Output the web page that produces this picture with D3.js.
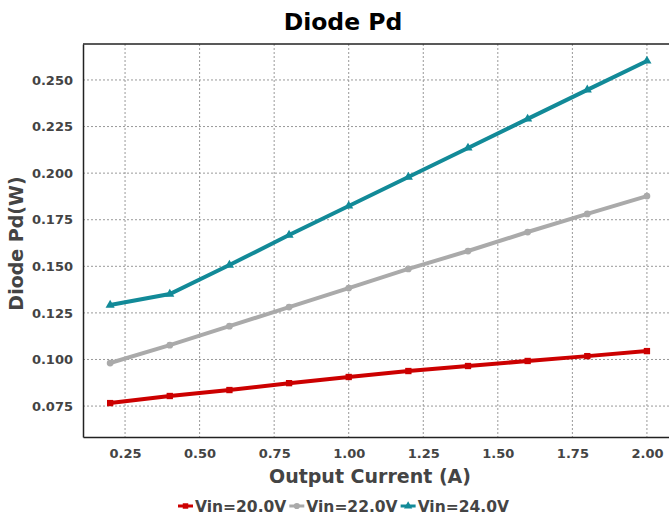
<!DOCTYPE html>
<html>
<head>
<meta charset="utf-8">
<script src="https://cdn.jsdelivr.net/npm/d3@7"></script>
<style>
  body { margin: 0; background: #fff; }
  text { font-family: "DejaVu Sans", sans-serif; }
</style>
</head>
<body>
<div id="chart"></div>
<script>
// data
const current = [0.2, 0.4, 0.6, 0.8, 1.0, 1.2, 1.4, 1.6, 1.8, 2.0];
const vin20 = [0.0766, 0.0804, 0.0836, 0.0873, 0.0906, 0.0938, 0.0965, 0.0992, 0.1018, 0.1045];
const vin22 = [0.0981, 0.1077, 0.1179, 0.1281, 0.1383, 0.1486, 0.1582, 0.1684, 0.1781, 0.1877];
const vin24 = [0.1292, 0.1351, 0.1507, 0.1668, 0.1824, 0.1979, 0.2135, 0.2291, 0.2447, 0.2602];
const seriesNames = ["Vin=20.0V", "Vin=22.0V", "Vin=24.0V"];
const xTicks = [0.25, 0.5, 0.75, 1.0, 1.25, 1.5, 1.75, 2.0];
const yTicks = [0.075, 0.1, 0.125, 0.15, 0.175, 0.2, 0.225, 0.25];

const width = 669, height = 517;
const margin = { top: 44, right: 0, bottom: 80, left: 83 };
const innerW = width - margin.left - margin.right;
const innerH = height - margin.top - margin.bottom;

const series = [
  { name: seriesNames[0], values: vin20, color: "#cc0000", symbol: d3.symbolSquare, size: 40 },
  { name: seriesNames[1], values: vin22, color: "#aaaaaa", symbol: d3.symbolCircle, size: 36 },
  { name: seriesNames[2], values: vin24, color: "#128a98", symbol: d3.symbolTriangle, size: 36 }
];

const svg = d3.select("#chart").append("svg")
  .attr("width", width)
  .attr("height", height);

const g = svg.append("g")
  .attr("transform", "translate(" + margin.left + "," + margin.top + ")");

const x = d3.scaleLinear().domain([0.109, 2.074]).range([0, innerW]);
const y = d3.scaleLinear().domain([0.0584, 0.2693]).range([innerH, 0]);

// grid
g.append("g").selectAll("line").data(xTicks).join("line")
  .attr("x1", d => x(d)).attr("x2", d => x(d))
  .attr("y1", 0).attr("y2", innerH)
  .attr("stroke", "#999").attr("stroke-width", 1).attr("stroke-dasharray", "2,2");
g.append("g").selectAll("line").data(yTicks).join("line")
  .attr("x1", 0).attr("x2", innerW)
  .attr("y1", d => y(d)).attr("y2", d => y(d))
  .attr("stroke", "#999").attr("stroke-width", 1).attr("stroke-dasharray", "2,2");

// axes
const xAxis = g.append("g")
  .attr("transform", "translate(0," + innerH + ")")
  .call(d3.axisBottom(x).tickValues(xTicks).tickFormat(d3.format(".2f")).tickSize(0).tickPadding(12));
const yAxis = g.append("g")
  .call(d3.axisLeft(y).tickValues(yTicks).tickFormat(d3.format(".3f")).tickSize(0).tickPadding(10));
[xAxis, yAxis].forEach(a => {
  a.select(".domain").attr("stroke", "#222").attr("stroke-width", 1.5);
  a.selectAll("text")
    .style("font-family", "DejaVu Sans, sans-serif")
    .style("font-size", "13px")
    .style("font-weight", "bold")
    .attr("fill", "#444");
});
// top border
g.append("line").attr("x1", 0).attr("x2", innerW).attr("y1", 0).attr("y2", 0)
  .attr("stroke", "#222").attr("stroke-width", 1.5);

// lines + markers
const line = d3.line().x((d, i) => x(current[i])).y(d => y(d));
series.forEach(s => {
  g.append("path").datum(s.values)
    .attr("fill", "none")
    .attr("stroke", s.color)
    .attr("stroke-width", 4)
    .attr("d", line);
  g.append("g").selectAll("path").data(s.values).join("path")
    .attr("transform", (d, i) => "translate(" + x(current[i]) + "," + y(d) + ")")
    .attr("d", d3.symbol().type(s.symbol).size(s.size))
    .attr("fill", s.color);
});

// title
svg.append("text")
  .attr("x", 343).attr("y", 30)
  .attr("text-anchor", "middle")
  .style("font-size", "23.5px").style("font-weight", "bold")
  .attr("fill", "#000")
  .text("Diode Pd");

// axis labels
svg.append("text")
  .attr("x", margin.left + (669 - 83) / 2 - 6).attr("y", 483)
  .attr("text-anchor", "middle")
  .style("font-size", "19px").style("font-weight", "bold")
  .attr("fill", "#444")
  .text("Output Current (A)");
svg.append("text")
  .attr("transform", "translate(23," + (margin.top + innerH / 2 + 3) + ") rotate(-90)")
  .attr("text-anchor", "middle")
  .style("font-size", "19px").style("font-weight", "bold")
  .attr("fill", "#444")
  .text("Diode Pd(W)");

// legend
const legend = svg.append("g").attr("transform", "translate(178,506)");
let lx = 0;
series.forEach(s => {
  const item = legend.append("g").attr("transform", "translate(" + lx + ",0)");
  item.append("line").attr("x1", 0).attr("x2", 15).attr("y1", 0).attr("y2", 0)
    .attr("stroke", s.color).attr("stroke-width", 3);
  item.append("path").attr("transform", "translate(7.5,0)")
    .attr("d", d3.symbol().type(s.symbol).size(30)).attr("fill", s.color);
  const t = item.append("text").attr("x", 17).attr("y", 5.5)
    .style("font-size", "15.5px").style("font-weight", "bold")
    .attr("fill", "#444").text(s.name);
  lx += 17 + t.node().getComputedTextLength() + 3;
});
</script>
</body>
</html>
